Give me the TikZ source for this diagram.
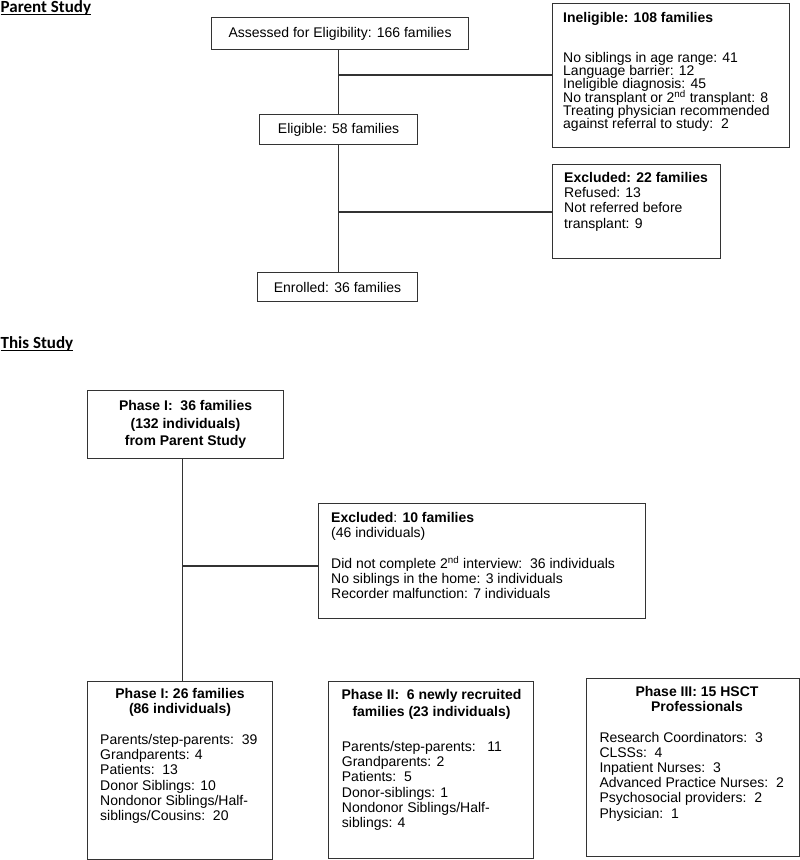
\documentclass[tikz,border=0pt]{standalone}
\usepackage{fontspec}
\setmainfont{Liberation Sans}
\newfontfamily\calib{Carlito}
\tikzset{
  frame/.style={draw=black!80, line width=1.1pt, inner sep=0pt, anchor=north west},
  link/.style={draw=black!80, line width=1.1pt},
  txt/.style={inner sep=0pt, anchor=north west, align=left,
    font=\fontsize{14}{15.3}\selectfont},
  tighttxt/.style={txt, font=\fontsize{14}{13.3}\selectfont},
  ttl/.style={inner sep=0pt, anchor=north, align=center,
    font=\bfseries\fontsize{14}{15.5}\selectfont},
  head/.style={inner sep=0pt, anchor=base west, font=\calib\bfseries\fontsize{17}{20}\selectfont},
  uline/.style={draw=black, line width=0.9pt},
}
\begin{document}
\setlength{\lineskiplimit}{-20pt}
\begin{tikzpicture}[x=1pt,y=-1pt]
\useasboundingbox (0,0) rectangle (800,860);

% ---------- Parent Study ----------
\node[head] (ps) at (0.5,12) {Parent Study};
\draw[uline] ([yshift=-2pt]ps.base west) -- ([yshift=-2pt]ps.base east);

\node[frame, minimum width=257pt, minimum height=32pt] (assess) at (211,17) {};
\node[inner sep=0pt, font=\fontsize{14}{15}\selectfont] (assesst) at (assess.center) {Assessed for Eligibility: 166 families};

\node[frame, minimum width=158pt, minimum height=30pt] (elig) at (259,114) {};
\node[inner sep=0pt, font=\fontsize{14}{15}\selectfont] (eligt) at (elig.center) {Eligible: 58 families};

\node[frame, minimum width=160pt, minimum height=29pt] (enr) at (257,272) {};
\node[inner sep=0pt, font=\fontsize{14}{15}\selectfont] (enrt) at (enr.center) {Enrolled: 36 families};

\node[frame, minimum width=237pt, minimum height=144pt] (inel) at (552,3) {};
\node[tighttxt, font=\bfseries\fontsize{14}{13.3}\selectfont] (inelh) at (563,12) {Ineligible: 108 families};
\node[tighttxt] (inelb) at (563,52) {No siblings in age range: 41\\
Language barrier: 12\\
Ineligible diagnosis: 45\\
No transplant or 2\textsuperscript{nd} transplant: 8\\
Treating physician recommended\\
against referral to study:\ \ 2};

\node[frame, minimum width=168pt, minimum height=94pt] (excl) at (552,164) {};
\node[txt] (exclt) at (564,172) {\textbf{Excluded: 22 families}\\
Refused: 13\\
Not referred before\\
transplant: 9};

\coordinate (j1) at (338.5,75);
\coordinate (j2) at (338.5,212);
\draw[link] (assess.south -| j1) -- (elig.north -| j1);
\draw[link] (j1) -- (inel.west |- j1);
\draw[link] (elig.south -| j2) -- (enr.north -| j2);
\draw[link] (j2) -- (excl.west |- j2);

% ---------- This Study ----------
\node[head] (ts) at (0.5,348) {This Study};
\draw[uline] ([yshift=-2pt]ts.base west) -- ([yshift=-2pt]ts.base east);

\node[frame, minimum width=196pt, minimum height=68pt] (p1) at (87,390) {};
\node[inner sep=0pt, align=center, font=\bfseries\fontsize{14}{17.8}\selectfont] (p1t) at (p1.center)
  {Phase I:\ \ 36 families\\(132 individuals)\\from Parent Study};

\node[frame, minimum width=327pt, minimum height=115pt] (ex10) at (318,503) {};
\node[txt] (ex10t) at (331,512) {\textbf{Excluded}: \textbf{10 families}\\
(46 individuals)\\[15.3pt]
Did not complete 2\textsuperscript{nd} interview:\ \ 36 individuals\\
No siblings in the home: 3 individuals\\
Recorder malfunction: 7 individuals};

\node[frame, minimum width=185pt, minimum height=178pt] (p1b) at (87,681) {};
\node[ttl, font=\bfseries\fontsize{14}{15}\selectfont] (p1bh) at (180,688.5) {Phase I: 26 families\\(86 individuals)};
\node[txt] (p1bb) at (100,734) {Parents/step-parents:\ \ 39\\
Grandparents: 4\\
Patients:\ \ 13\\
Donor Siblings: 10\\
Nondonor Siblings/Half-\\
siblings/Cousins:\ \ 20};

\node[frame, minimum width=205pt, minimum height=177pt] (p2) at (328,681) {};
\node[ttl, font=\bfseries\fontsize{14}{16.5}\selectfont] (p2h) at (431.5,689.5) {Phase II:\ \ 6 newly recruited\\families (23 individuals)};
\node[txt] (p2b) at (341.7,741) {Parents/step-parents:\ \ \ 11\\
Grandparents: 2\\
Patients:\ \ 5\\
Donor-siblings: 1\\
Nondonor Siblings/Half-\\
siblings: 4};

\node[frame, minimum width=213pt, minimum height=178pt] (p3) at (586,678) {};
\node[ttl, font=\bfseries\fontsize{14}{14.7}\selectfont] (p3h) at (697,686) {Phase III: 15 HSCT\\Professionals};
\node[txt, font=\fontsize{14}{15.2}\selectfont] (p3b) at (599.3,731.8) {Research Coordinators:\ \ 3\\
CLSSs:\ \ 4\\
Inpatient Nurses:\ \ 3\\
Advanced Practice Nurses:\ \ 2\\
Psychosocial providers:\ \ 2\\
Physician:\ \ 1};

\coordinate (j3) at (182.5,566);
\draw[link] (p1.south -| j3) -- (p1b.north -| j3);
\draw[link] (j3) -- (ex10.west |- j3);
\end{tikzpicture}
\end{document}
